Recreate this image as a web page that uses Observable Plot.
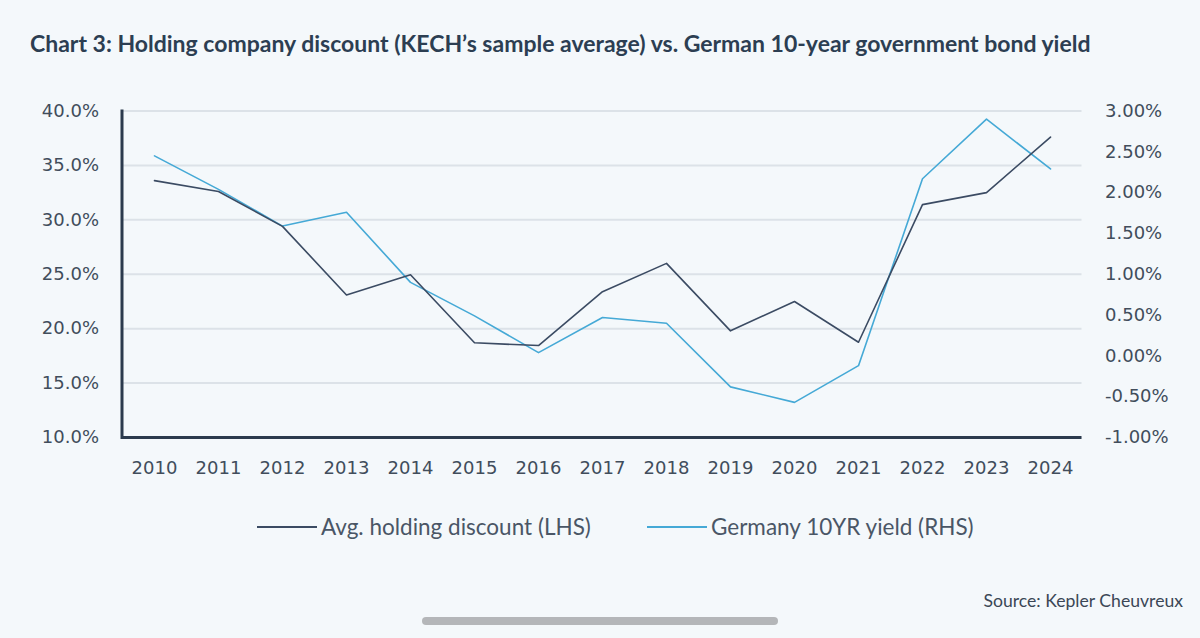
<!DOCTYPE html>
<html>
<head>
<meta charset="utf-8">
<script src="https://cdn.jsdelivr.net/npm/d3@7"></script>
<script src="https://cdn.jsdelivr.net/npm/@observablehq/plot@0.6"></script>
<style>
  html, body { margin: 0; padding: 0; background: #f4f8fb; }
  #page { position: relative; width: 1200px; height: 638px; overflow: hidden; background: #f4f8fb; }
  #title { position: absolute; left: 30px; top: 29px; font-family: Lato, "Noto Sans", sans-serif; font-weight: 700; font-size: 23px; color: #2c3e52; white-space: nowrap; }
  #chart { position: absolute; left: 0; top: 90px; }
  .legend { position: absolute; top: 513px; font-family: Lato, "Noto Sans", sans-serif; font-size: 22.5px; color: #4a5666; display: flex; align-items: center; white-space: nowrap; }
  .legend .sw { display: inline-block; width: 60px; height: 2px; margin-right: 4px; }
  #caption { position: absolute; right: 17px; top: 590px; font-family: Lato, "Noto Sans", sans-serif; font-size: 17.6px; color: #3b4756; }
  #bar { position: absolute; left: 422px; top: 617px; width: 356px; height: 8px; border-radius: 4px; background: #b4b6b9; }
</style>
</head>
<body>
<div id="page">
  <div id="title">Chart 3: Holding company discount (KECH’s sample average) vs. German 10-year government bond yield</div>
  <div id="chart"></div>
  <div class="legend" id="leg1" style="left:257px"><span class="sw" style="background:#3b4b63"></span>Avg. holding discount (LHS)</div>
  <div class="legend" id="leg2" style="left:647px"><span class="sw" style="background:#45a9d6"></span>Germany 10YR yield (RHS)</div>
  <div id="caption">Source: Kepler Cheuvreux</div>
  <div id="bar"></div>
</div>
<script>
const years = [2010, 2011, 2012, 2013, 2014, 2015, 2016, 2017, 2018, 2019, 2020, 2021, 2022, 2023, 2024];
const holdingDiscount = [33.6, 32.6, 29.4, 23.1, 24.95, 18.7, 18.45, 23.4, 26.0, 19.8, 22.5, 18.75, 31.4, 32.5, 37.6];
const germany10y = [2.45, 2.04, 1.59, 1.76, 0.90, 0.49, 0.04, 0.47, 0.40, -0.38, -0.57, -0.12, 2.17, 2.90, 2.29];
const leftTicks = [10, 15, 20, 25, 30, 35, 40];
const rightTicks = [-1.0, -0.5, 0.0, 0.5, 1.0, 1.5, 2.0, 2.5, 3.0];

// right axis (-1%..3%) mapped onto left axis (10%..40%)
const toLeft = r => 10 + (r + 1) * 7.5;
const toRight = l => (l - 10) / 7.5 - 1;

const dataL = years.map((year, i) => ({year, v: holdingDiscount[i]}));
const dataR = years.map((year, i) => ({year, v: toLeft(germany10y[i])}));

const plot = Plot.plot({
  width: 1200,
  height: 400,
  marginLeft: 121.5,
  marginRight: 118.5,
  marginTop: 20.5,
  marginBottom: 53,
  style: {background: "transparent", fontFamily: "'DejaVu Sans', sans-serif", fontSize: "18px", color: "#414d5b", overflow: "visible"},
  x: {type: "point", domain: years, padding: 0.5, label: null},
  y: {domain: [10, 40], label: null},
  marks: [
    Plot.gridY(leftTicks, {stroke: "#dce2e8", strokeOpacity: 1, strokeWidth: 2}),
    Plot.axisY(leftTicks, {anchor: "left", tickSize: 0, tickPadding: 23, tickFormat: d => d.toFixed(1) + "%", label: null}),
    Plot.axisY(rightTicks.map(toLeft), {anchor: "right", tickSize: 0, tickPadding: 23, tickFormat: d => toRight(d).toFixed(2) + "%", label: null}),
    Plot.axisX(years, {tickSize: 0, tickPadding: 24, tickFormat: d => String(d), label: null}),
    Plot.ruleY([10], {stroke: "#2b3a4d", strokeWidth: 3}),
    Plot.frame({anchor: "left", stroke: "#2b3a4d", strokeWidth: 3}),
    Plot.line(dataR, {x: "year", y: "v", stroke: "#45a9d6", strokeWidth: 1.6}),
    Plot.line(dataL, {x: "year", y: "v", stroke: "#3b4b63", strokeWidth: 1.6})
  ]
});
document.getElementById("chart").appendChild(plot);
</script>
</body>
</html>
